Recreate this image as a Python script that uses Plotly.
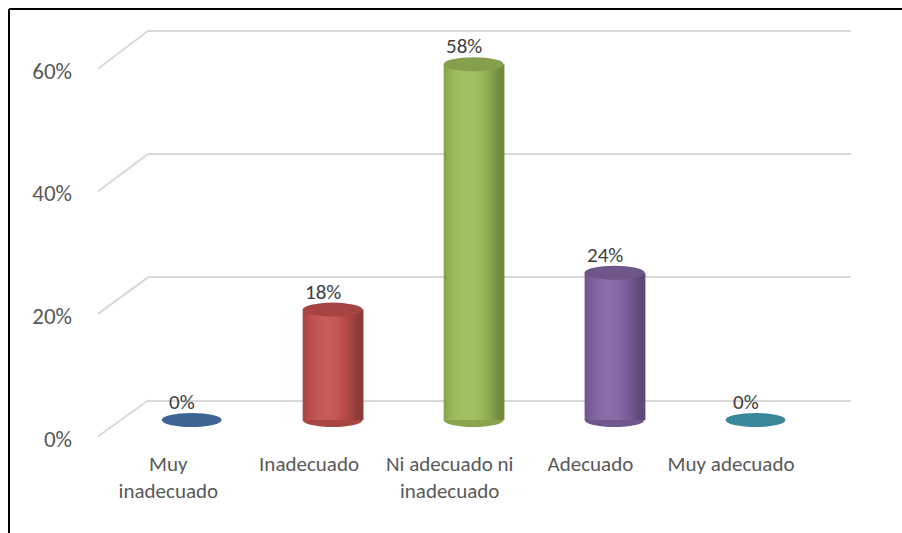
import math
import plotly.graph_objects as go

# ---- data ----
categories = ["Muy<br>inadecuado", "Inadecuado", "Ni adecuado ni<br>inadecuado", "Adecuado", "Muy adecuado"]
values = [0.00, 0.18, 0.58, 0.24, 0.00]
labels = ["0%", "18%", "58%", "24%", "0%"]
colors = ["#4F81BD", "#C0504D", "#9BBB59", "#8064A2", "#4BACC6"]
y_ticks = [0, 0.2, 0.4, 0.6]
y_ticktext = ["0%", "20%", "40%", "60%"]

W, H = 902, 533
FONT = "Carlito, Calibri, Lato, sans-serif"


def px_x(p):
    return p / W


def px_y(p):
    return 1 - p / H


def shade(hexc, f):
    h = hexc.lstrip("#")
    r, g, b = (int(h[i:i + 2], 16) for i in (0, 2, 4))
    if f <= 1:
        r, g, b = r * f, g * f, b * f
    else:
        t = f - 1
        r, g, b = r + (255 - r) * t, g + (255 - g) * t, b + (255 - b) * t
    return "rgb(%d,%d,%d)" % (max(0, min(255, r)), max(0, min(255, g)), max(0, min(255, b)))


ymax = 0.6


def ydomain(p0, p1, lo, hi):
    """pixel rows p0 (value 0) and p1 (value ymax) -> paper domain for range [lo, hi]"""
    def at(v):
        return p0 + v / ymax * (p1 - p0)
    return [px_y(at(lo)), px_y(at(hi))]


# layout geometry (pixels)
front_x = (98, 801.4)
front_y = (436.5, 68.7)   # rows of 0% and 60%
back_x = (148, 851)
back_y = (400.5, 31)
bar_x = (121.2, 826)
bar_y = (420, 52)

back_rng = [-0.01, 0.61]
bar_rng = [-0.04, 0.61]

fig = go.Figure()

# cylinder bodies as thin overlaid strips (shaded gradient)
BW = 0.425
N = 24
for k in range(N):
    t = (k + 0.5) / N
    light = 0.74 + 0.34 * max(0.0, math.cos(math.pi * (t - 0.4) / 1.05))
    strip_colors = [shade(c, light) for c in colors]
    fig.add_trace(go.Bar(
        x=list(range(len(values))), y=values,
        width=BW / N * 1.35, offset=-BW / 2 + k * BW / N,
        marker=dict(color=strip_colors, line=dict(width=0)),
        xaxis="x3", yaxis="y3", showlegend=False, hoverinfo="skip",
    ))

shapes = []
eh = 7 / (bar_y[0] - bar_y[1]) * ymax  # ellipse half height in data units
for i, (v, c) in enumerate(zip(values, colors)):
    if v > 0:
        shapes.append(dict(type="circle", xref="x3", yref="y3",
                           x0=i - BW / 2, x1=i + BW / 2, y0=-eh, y1=eh,
                           fillcolor=shade(c, 0.88), line=dict(width=0), layer="below"))
    shapes.append(dict(type="circle", xref="x3", yref="y3",
                       x0=i - BW / 2, x1=i + BW / 2, y0=v - eh, y1=v + eh,
                       fillcolor=shade(c, 0.86 if v > 0 else 0.78), line=dict(width=0)))

# diagonal lines from front plane to back wall
for v in y_ticks:
    yf = px_y(front_y[0]) + v / ymax * (px_y(front_y[1]) - px_y(front_y[0]))
    yb = px_y(back_y[0]) + v / ymax * (px_y(back_y[1]) - px_y(back_y[0]))
    shapes.append(dict(type="line", xref="paper", yref="paper",
                       x0=px_x(front_x[0]), y0=yf, x1=px_x(back_x[0]), y1=yb,
                       line=dict(color="#D9D9D9", width=2)))

# outer border (left and top)
shapes.append(dict(type="line", xref="paper", yref="paper", x0=px_x(9), y0=px_y(9), x1=px_x(9), y1=0,
                   line=dict(color="#000000", width=2)))
shapes.append(dict(type="line", xref="paper", yref="paper", x0=px_x(9), y0=px_y(9), x1=1, y1=px_y(9),
                   line=dict(color="#000000", width=2)))

annotations = []
for i, (v, lab) in enumerate(zip(values, labels)):
    annotations.append(dict(x=i, y=v, xref="x3", yref="y3", text=lab, showarrow=False,
                            yshift=18, xshift=-10,
                            font=dict(family=FONT, size=21, color="#404040")))

fig.add_trace(go.Scatter(x=categories, y=[None] * len(categories), xaxis="x", yaxis="y",
                         mode="markers", showlegend=False, hoverinfo="skip"))
fig.add_trace(go.Scatter(x=[0], y=[None], xaxis="x2", yaxis="y2",
                         mode="markers", showlegend=False, hoverinfo="skip"))

fig.update_layout(
    width=W, height=H,
    margin=dict(l=0, r=0, t=0, b=0, autoexpand=False),
    paper_bgcolor="white", plot_bgcolor="rgba(0,0,0,0)",
    barmode="overlay",
    showlegend=False,
    shapes=shapes,
    annotations=annotations,
    font=dict(family=FONT, color="#595959"),
    xaxis=dict(domain=[px_x(front_x[0]), px_x(front_x[1])], anchor="y", automargin=False,
               type="category", categoryorder="array", categoryarray=categories,
               range=[-0.5, len(categories) - 0.5],
               showgrid=False, zeroline=False, showline=False,
               ticks="", ticklabelstandoff=12,
               tickfont=dict(family=FONT, size=21, color="#595959")),
    yaxis=dict(domain=[px_y(front_y[0]), px_y(front_y[1])], anchor="x", automargin=False,
               range=[0, ymax], tickvals=y_ticks, ticktext=y_ticktext,
               showgrid=False, zeroline=False, showline=False,
               ticks="", ticklabelstandoff=25, ticklabelshift=2,
               tickfont=dict(family=FONT, size=23, color="#595959")),
    xaxis2=dict(domain=[px_x(back_x[0]), px_x(back_x[1])], anchor="y2", automargin=False,
                range=[0, 1], visible=False),
    yaxis2=dict(domain=ydomain(back_y[0], back_y[1], *back_rng), anchor="x2", automargin=False,
                range=back_rng, tickvals=y_ticks, showticklabels=False,
                showgrid=True, gridcolor="#D9D9D9", gridwidth=2,
                zeroline=False, showline=False, ticks=""),
    xaxis3=dict(domain=[px_x(bar_x[0]), px_x(bar_x[1])], anchor="y3", automargin=False,
                range=[-0.5, len(values) - 0.5], visible=False),
    yaxis3=dict(domain=ydomain(bar_y[0], bar_y[1], *bar_rng), anchor="x3", automargin=False,
                range=bar_rng, visible=False),
)

fig.write_html("out.html")
